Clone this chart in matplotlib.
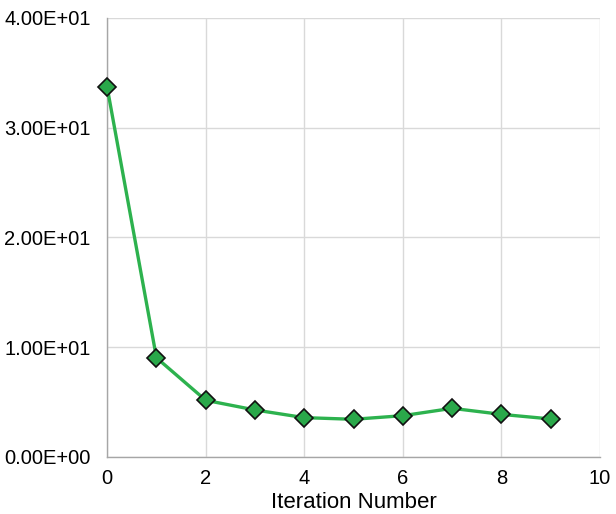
import matplotlib
matplotlib.use('Agg')
from matplotlib import pyplot as plt

# dati
iterations = [0, 1, 2, 3, 4, 5, 6, 7, 8, 9]
values = [33.67, 9.02, 5.14, 4.26, 3.56, 3.41, 3.74, 4.41, 3.86, 3.44]
y_ticks = [0, 10, 20, 30, 40]
y_tick_labels = ['0.00E+00', '1.00E+01', '2.00E+01', '3.00E+01', '4.00E+01']

plt.rcParams['font.family'] = ['Liberation Sans', 'DejaVu Sans']

fig = plt.figure(figsize=(6.16, 5.14), dpi=100)
ax = fig.add_axes([0.174, 0.1115, 0.80, 0.8535])

ax.plot(iterations, values, color='#2db24e', linewidth=2.4, marker='D', markersize=9.5,
        markerfacecolor='#2aa84a', markeredgecolor='#111111', markeredgewidth=1.2,
        zorder=3, clip_on=False)

ax.set_xlim(0, 10)
ax.set_ylim(0, 40)
ax.set_xticks([0, 2, 4, 6, 8, 10])
ax.set_yticks(y_ticks)
ax.set_yticklabels(y_tick_labels)
ax.tick_params(labelsize=14.5, length=0)
ax.tick_params(axis='y', pad=12)
ax.tick_params(axis='x', pad=9)
ax.set_xlabel('Iteration Number', fontsize=16, labelpad=3)

ax.grid(color='#d9d9d9', linewidth=1.0)
ax.set_axisbelow(True)
for side in ['top', 'right']:
    ax.spines[side].set_visible(False)
for side in ['left', 'bottom']:
    ax.spines[side].set_color('#a6a6a6')
    ax.spines[side].set_linewidth(1.0)

fig.savefig('out.png', dpi=100)
